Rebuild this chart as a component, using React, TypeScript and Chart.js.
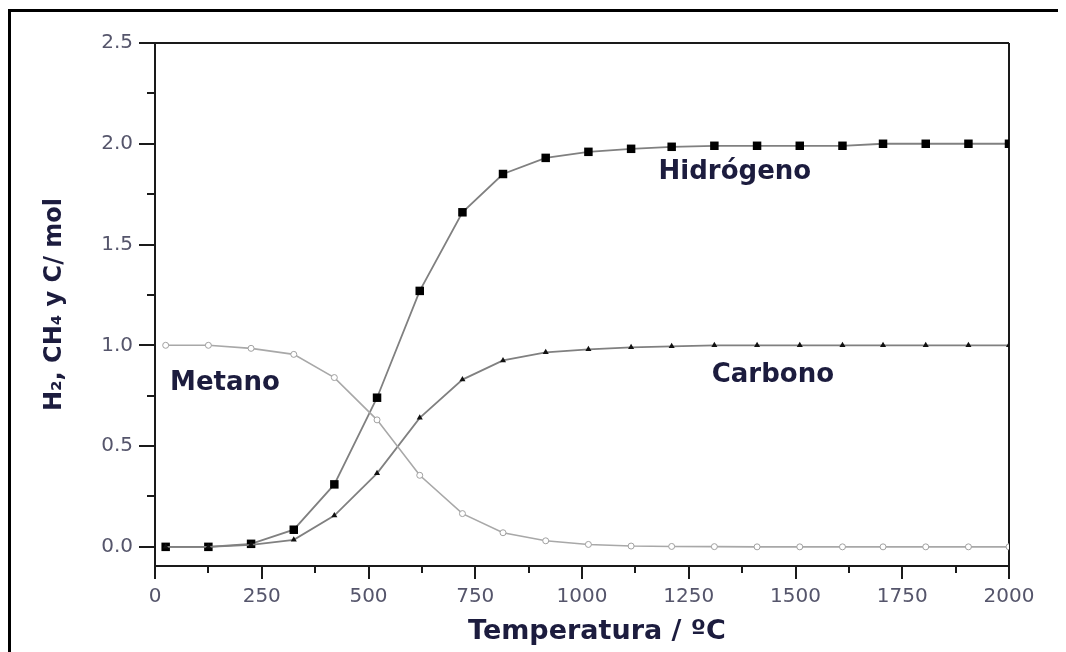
import React, { useEffect, useRef } from "react";
import { Chart, registerables } from "chart.js";

Chart.register(...registerables);

const temperatures = [25, 125, 225, 325, 420, 520, 620, 720, 815, 915, 1015, 1115, 1210, 1310, 1410, 1510, 1610, 1705, 1805, 1905, 2000];
const hidrogeno = [0, 0, 0.015, 0.085, 0.31, 0.74, 1.27, 1.66, 1.85, 1.93, 1.96, 1.975, 1.985, 1.99, 1.99, 1.99, 1.99, 2.0, 2.0, 2.0, 2.0];
const carbono = [0, 0, 0.01, 0.035, 0.155, 0.365, 0.64, 0.83, 0.925, 0.965, 0.98, 0.99, 0.995, 1.0, 1.0, 1.0, 1.0, 1.0, 1.0, 1.0, 1.0];
const metano = [1.0, 1.0, 0.985, 0.955, 0.84, 0.63, 0.355, 0.165, 0.07, 0.03, 0.012, 0.004, 0.002, 0.001, 0, 0, 0, 0, 0, 0, 0];

const yTicks = [0, 0.5, 1.0, 1.5, 2.0, 2.5];
const yMinorTicks = [0.25, 0.75, 1.25, 1.75, 2.25];
const xTicks = [0, 250, 500, 750, 1000, 1250, 1500, 1750, 2000];
const xMinorTicks = [125, 375, 625, 875, 1125, 1375, 1625, 1875];

const annotations = [
  { text: "Hidrógeno", x: 1358, y: 1.86 },
  { text: "Carbono", x: 1447, y: 0.853 },
  { text: "Metano", x: 164, y: 0.813 },
];

const xTitle = "Temperatura / ºC";
const yTitle = "H₂, CH₄ y C/ mol";

const TEXT_DARK = "#1c1c3e";
const TICK_COLOR = "#55556b";
const AXIS_COLOR = "#1a1a1a";

const framePlugin = {
  id: "framePlugin",
  beforeDatasetsDraw(chart: any) {
    const { ctx, chartArea, scales } = chart;
    const x = scales.x;
    const y = scales.y;
    ctx.save();
    ctx.strokeStyle = "#000";
    ctx.lineWidth = 3;
    ctx.strokeRect(1.5, 2.5, 3000, 3000);

    ctx.strokeStyle = AXIS_COLOR;
    ctx.lineWidth = 2;
    ctx.beginPath();
    ctx.moveTo(chartArea.left, chartArea.top);
    ctx.lineTo(chartArea.right, chartArea.top);
    ctx.moveTo(chartArea.right, chartArea.top);
    ctx.lineTo(chartArea.right, chartArea.bottom);
    ctx.moveTo(chartArea.left, chartArea.top);
    ctx.lineTo(chartArea.left, chartArea.bottom);
    ctx.moveTo(chartArea.left - 1, chartArea.bottom);
    ctx.lineTo(chartArea.right + 1, chartArea.bottom);
    yTicks.forEach((v) => {
      const py = Math.round(y.getPixelForValue(v));
      ctx.moveTo(chartArea.left - 16, py);
      ctx.lineTo(chartArea.left, py);
    });
    yMinorTicks.forEach((v) => {
      const py = Math.round(y.getPixelForValue(v));
      ctx.moveTo(chartArea.left - 8, py);
      ctx.lineTo(chartArea.left, py);
    });
    xTicks.forEach((v) => {
      const px = Math.round(x.getPixelForValue(v));
      ctx.moveTo(px, chartArea.bottom);
      ctx.lineTo(px, chartArea.bottom + 13);
    });
    xMinorTicks.forEach((v) => {
      const px = Math.round(x.getPixelForValue(v));
      ctx.moveTo(px, chartArea.bottom);
      ctx.lineTo(px, chartArea.bottom + 7);
    });
    ctx.stroke();
    ctx.restore();
  },
  afterDraw(chart: any) {
    const { ctx, chartArea, scales } = chart;
    const x = scales.x;
    const y = scales.y;
    ctx.save();
    ctx.fillStyle = TEXT_DARK;
    ctx.textAlign = "center";
    ctx.textBaseline = "middle";
    ctx.font = "bold 26px 'DejaVu Sans'";
    annotations.forEach((a) => {
      ctx.fillText(a.text, x.getPixelForValue(a.x), y.getPixelForValue(a.y));
    });
    ctx.font = "bold 27px 'DejaVu Sans'";
    ctx.fillText(xTitle, 589, 624);
    ctx.save();
    ctx.translate(47, (chartArea.top + chartArea.bottom) / 2);
    ctx.rotate(-Math.PI / 2);
    ctx.font = "bold 24px 'DejaVu Sans'";
    ctx.fillText(yTitle, 0, 0);
    ctx.restore();
    ctx.restore();
  },
};

export default function App() {
  const ref = useRef<HTMLCanvasElement | null>(null);
  useEffect(() => {
    document.body.style.overflow = "hidden";
    const canvas = ref.current!;
    const chart = new Chart(canvas, {
      type: "line",
      data: {
        datasets: [
          {
            label: "Metano",
            data: temperatures.map((t, i) => ({ x: t, y: metano[i] })),
            borderColor: "#a8a8a8",
            borderWidth: 1.6,
            pointStyle: "circle",
            pointRadius: 3,
            pointBorderWidth: 1,
            pointBorderColor: "#a0a0a0",
            pointBackgroundColor: "#ffffff",
            tension: 0,
          },
          {
            label: "Carbono",
            data: temperatures.map((t, i) => ({ x: t, y: carbono[i] })),
            borderColor: "#808080",
            borderWidth: 1.8,
            pointStyle: "triangle",
            pointRadius: 3.5,
            pointBorderWidth: 0,
            pointBackgroundColor: "#111",
            tension: 0,
          },
          {
            label: "Hidrógeno",
            data: temperatures.map((t, i) => ({ x: t, y: hidrogeno[i] })),
            borderColor: "#808080",
            borderWidth: 1.8,
            pointStyle: "rect",
            pointRadius: 6,
            pointBorderWidth: 0,
            pointBackgroundColor: "#000",
            tension: 0,
          },
        ],
      },
      options: {
        animation: false,
        responsive: false,
        maintainAspectRatio: false,
        layout: { padding: { top: 35, right: 57, left: 0, bottom: 0 } },
        plugins: {
          legend: { display: false },
          tooltip: { enabled: false },
        },
        scales: {
          x: {
            type: "linear",
            min: 0,
            max: 2000,
            grid: { display: false },
            border: { display: false },
            afterBuildTicks: (s: any) => {
              s.ticks = xTicks.map((v) => ({ value: v }));
            },
            afterFit: (s: any) => {
              s.height = 86;
            },
            ticks: {
              color: TICK_COLOR,
              font: { family: "'DejaVu Sans'", size: 20 },
              padding: 11,
              maxRotation: 0,
              autoSkip: false,
              callback: (v: any) => String(v),
            },
          },
          y: {
            type: "linear",
            min: -0.095,
            max: 2.5,
            grid: { display: false },
            border: { display: false },
            afterBuildTicks: (s: any) => {
              s.ticks = yTicks.map((v) => ({ value: v }));
            },
            afterFit: (s: any) => {
              s.width = 147;
            },
            ticks: {
              color: TICK_COLOR,
              font: { family: "'DejaVu Sans'", size: 20 },
              padding: 14,
              callback: (v: any) => Number(v).toFixed(1),
            },
          },
        },
      },
      plugins: [framePlugin],
    });
    return () => chart.destroy();
  }, []);
  return (
    <div style={{ width: 1058, height: 644 }}>
      <canvas ref={ref} width={1058} height={644} style={{ display: "block", width: 1058, height: 644 }} />
    </div>
  );
}
